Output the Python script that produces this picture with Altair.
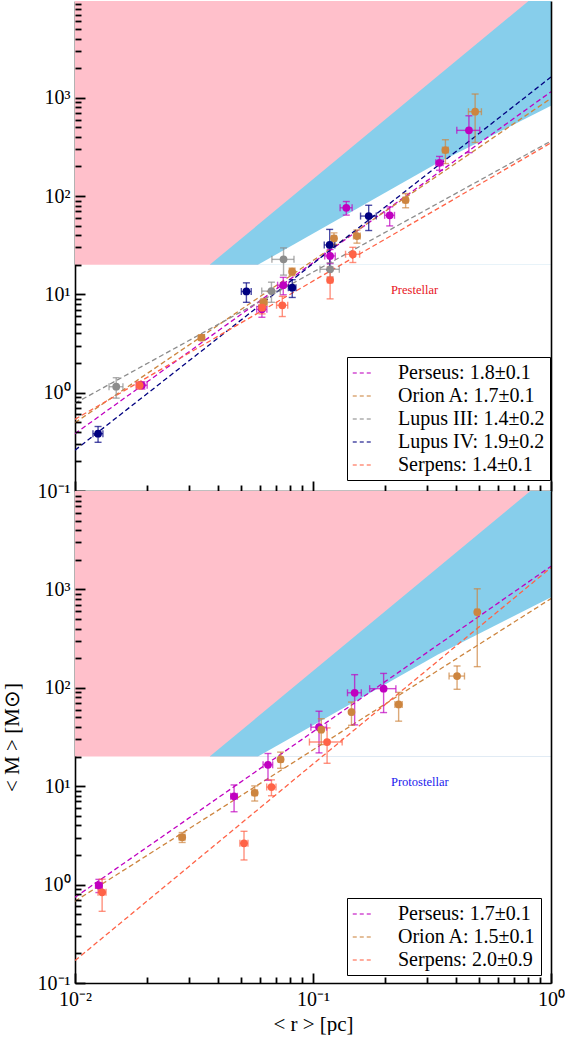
import altair as alt
import pandas as pd

# ---------------- data ----------------
# Prestellar (top panel)
pre_perseus_r = [0.0191, 0.061, 0.075, 0.118, 0.138, 0.210, 0.340, 0.452]
pre_perseus_m = [1.19, 7.05, 12.4, 24.6, 76.0, 63.7, 218, 466]
pre_perseus_rerr = [0.001, 0.003, 0.004, 0.006, 0.008, 0.010, 0.012, 0.05]
pre_perseus_merr = [0.1, 1.2, 2.5, 4, 12, 14, 35, 190]

pre_orion_r = [0.034, 0.0621, 0.0817, 0.1225, 0.153, 0.245, 0.360, 0.480]
pre_orion_m = [3.63, 8.27, 17.0, 37.2, 39.2, 91, 294, 721]
pre_orion_rerr = [0.001, 0.002, 0.002, 0.003, 0.005, 0.006, 0.01, 0.03]
pre_orion_merr = [0.2, 0.8, 1.5, 5, 6, 15, 80, 370]

pre_lupus3_r = [0.0149, 0.0669, 0.0752, 0.118]
pre_lupus3_m = [1.15, 10.8, 22.7, 18.0]
pre_lupus3_rerr = [0.001, 0.006, 0.008, 0.011]
pre_lupus3_merr = [0.27, 2.5, 7, 3]

pre_lupus4_r = [0.0125, 0.0525, 0.0818, 0.1175, 0.1714]
pre_lupus4_m = [0.383, 10.7, 11.7, 31.8, 62.6]
pre_lupus4_rerr = [0.0006, 0.0025, 0.003, 0.006, 0.013]
pre_lupus4_merr = [0.07, 2.4, 2.4, 14, 18]

pre_serpens_r = [0.0187, 0.0611, 0.0743, 0.118, 0.147]
pre_serpens_m = [1.19, 7.33, 7.75, 14.0, 25.6]
pre_serpens_rerr = [0.0006, 0.002, 0.004, 0.003, 0.01]
pre_serpens_merr = [0.1, 1.0, 1.8, 5, 4.5]

# Protostellar (bottom panel)
pro_perseus_r = [0.0126, 0.0466, 0.0647, 0.106, 0.1496, 0.198]
pro_perseus_m = [0.98, 7.9, 16.5, 39.8, 89, 98]
pro_perseus_rerr = [0.0004, 0.0015, 0.003, 0.008, 0.01, 0.025]
pro_perseus_merr = [0.15, 2.4, 5, 18, 47, 42]

pro_orion_r = [0.0282, 0.0569, 0.0731, 0.1083, 0.1451, 0.229, 0.403, 0.490]
pro_orion_m = [3.03, 8.57, 18.7, 37.5, 56.6, 67.8, 131.6, 589]
pro_orion_rerr = [0.0008, 0.0015, 0.0015, 0.002, 0.002, 0.008, 0.03, 0.01]
pro_orion_merr = [0.35, 1.5, 3.5, 11, 15, 22, 35, 425]

pro_serpens_r = [0.0130, 0.0513, 0.0669, 0.1146]
pro_serpens_m = [0.835, 2.63, 9.8, 28.1]
pro_serpens_rerr = [0.0005, 0.002, 0.003, 0.018]
pro_serpens_merr = [0.3, 0.85, 1.8, 11]

# fitted power laws (values at r = 0.01 and r = 1)
fit_r = [0.01, 1.0]
pre_fit_perseus = [0.383, 1151]
pre_fit_orion = [0.495, 986]
pre_fit_lupus3 = [0.78, 363]
pre_fit_lupus4 = [0.26, 1625]
pre_fit_serpens = [0.536, 348]
pro_fit_perseus = [0.743, 1718]
pro_fit_orion = [0.678, 806]
pro_fit_serpens = [0.169, 1667]

pre_labels = ["Perseus: 1.8±0.1", "Orion A: 1.7±0.1", "Lupus III: 1.4±0.2",
              "Lupus IV: 1.9±0.2", "Serpens: 1.4±0.1"]
pre_colors = ["#c000c0", "#cd853f", "#8c8c8c", "#000080", "#ff6347"]
pro_labels = ["Perseus: 1.7±0.1", "Orion A: 1.5±0.1", "Serpens: 2.0±0.9"]
pro_colors = ["#c000c0", "#cd853f", "#ff6347"]

# shaded regions
floor_m = 20
upper_edge_r = [0.0368, 0.2805, 1.0]
upper_edge_m = [20, 1170, 14900]
lower_edge_r = [0.0587, 0.335, 1.0]
lower_edge_m = [20, 218, 830]

# annotations
pre_note = ["Prestellar", 0.267, 11.0]
pro_note = ["Protostellar", 0.281, 11.0]

x_major = [0.01, 0.1, 1.0]
x_minor = [0.02, 0.03, 0.04, 0.05, 0.06, 0.07, 0.08, 0.09,
           0.2, 0.3, 0.4, 0.5, 0.6, 0.7, 0.8, 0.9]
y_major = [0.1, 1, 10, 100, 1000]
y_minor = [0.2, 0.3, 0.4, 0.5, 0.6, 0.7, 0.8, 0.9,
           2, 3, 4, 5, 6, 7, 8, 9,
           20, 30, 40, 50, 60, 70, 80, 90,
           200, 300, 400, 500, 600, 700, 800, 900,
           2000, 3000, 4000, 5000, 6000, 7000, 8000, 9000]

FONT = "Liberation Serif"
W = 476
LABEL_EXPR = ("datum.value < 0.05 ? '10⁻²' : datum.value < 0.5 ? '10⁻¹' : "
              "datum.value < 5 ? '10⁰' : datum.value < 50 ? '10¹' : "
              "datum.value < 500 ? '10²' : '10³'")


def points_df(series):
    rows = []
    for label, r, m, re, me in series:
        for i in range(len(r)):
            rows.append(dict(label=label, r=r[i], m=m[i],
                             rlo=r[i] - re[i], rhi=r[i] + re[i],
                             mlo=max(m[i] - me[i], 0.11), mhi=m[i] + me[i]))
    return pd.DataFrame(rows)


def fits_df(series):
    rows = []
    for label, vals in series:
        for r, m in zip(fit_r, vals):
            rows.append(dict(label=label, r=r, m=m))
    return pd.DataFrame(rows)


def panel(pts, fits, labels, colors, ymax, H, note, note_color, legend_y, bottom):
    xs = alt.Scale(type="log", domain=[0.01, 1.0], nice=False)
    ys = alt.Scale(type="log", domain=[0.1, ymax], nice=False)
    cs = alt.Scale(domain=labels, range=colors)

    main_x = alt.Axis(orient="bottom", values=x_major, labelExpr=LABEL_EXPR,
                      labels=bottom, ticks=False, tickSize=0, domain=True,
                      domainColor="black", domainWidth=1.6, grid=False,
                      labelFont=FONT, labelFontSize=20, labelColor="black",
                      labelPadding=6, labelFlush=False,
                      title="< r > [pc]" if bottom else None,
                      titleFont=FONT, titleFontSize=21, titleFontWeight="normal",
                      titleColor="black", titlePadding=4)
    main_y = alt.Axis(orient="left", values=y_major, labelExpr=LABEL_EXPR,
                      ticks=False, tickSize=0, domain=True, domainColor="black",
                      domainWidth=1.6, grid=False, labelFont=FONT,
                      labelFontSize=20, labelColor="black", labelPadding=5,
                      labelFlush=False,
                      title="< M > [M⊙]" if bottom else None,
                      titleFont=FONT, titleFontSize=21, titleFontWeight="normal",
                      titleColor="black", titlePadding=15)

    def tick_axes(xvals, yvals, size):
        ax = alt.Axis(orient="top", offset=-H, values=xvals, labels=False,
                      tickSize=size, tickWidth=1.8, tickColor="black",
                      domain=False, grid=False, title=None, zindex=3)
        ay = alt.Axis(orient="right", offset=-W, values=yvals, labels=False,
                      tickSize=size, tickWidth=1.8, tickColor="black",
                      domain=False, grid=False, title=None, zindex=3)
        return ax, ay

    maj_x, maj_y = tick_axes(x_major, y_major, 10)
    min_x, min_y = tick_axes(x_minor, y_minor, 6)
    right_spine = alt.Axis(orient="right", labels=False, ticks=False,
                           domain=True, domainColor="black", domainWidth=1.6,
                           grid=False, title=None, zindex=3)

    pink = alt.Chart(pd.DataFrame({"x0": [fit_r[0]], "x1": [fit_r[1]],
                                   "y0": [floor_m], "y1": [ymax]})).mark_rect(
        color="#ffc0cb").encode(
        x=alt.X("x0:Q", scale=xs, axis=main_x), x2="x1:Q",
        y=alt.Y("y0:Q", scale=ys, axis=main_y), y2="y1:Q")

    blue = alt.Chart(pd.DataFrame({"r": upper_edge_r, "m": upper_edge_m,
                                   "f": [floor_m] * len(upper_edge_r)})).mark_area(
        color="#87ceeb", clip=True, opacity=1).encode(
        x=alt.X("r:Q", scale=xs, axis=maj_x),
        y=alt.Y("m:Q", scale=ys, axis=maj_y), y2="f:Q")

    white = alt.Chart(pd.DataFrame({"r": lower_edge_r, "m": lower_edge_m,
                                    "f": [floor_m] * len(lower_edge_r)})).mark_area(
        color="white", clip=True, opacity=1).encode(
        x=alt.X("r:Q", scale=xs, axis=min_x),
        y=alt.Y("m:Q", scale=ys, axis=min_y), y2="f:Q")

    lines = alt.Chart(fits).mark_line(strokeDash=[5, 3], strokeWidth=1.3,
                                      clip=True).encode(
        x=alt.X("r:Q", scale=xs, axis=None),
        y=alt.Y("m:Q", scale=ys, axis=right_spine),
        color=alt.Color("label:N", scale=cs, legend=alt.Legend(
            orient="none", legendX=272, legendY=legend_y, title=None,
            symbolType="stroke", symbolStrokeWidth=1.5, symbolDash=[4, 3],
            symbolSize=420, symbolOpacity=0.7, labelFont=FONT,
            labelFontSize=20, labelColor="black", labelLimit=300,
            labelOffset=24, rowPadding=2, padding=5, strokeColor="black",
            fillColor="white", cornerRadius=0)),
        detail="label:N")

    nolegend = alt.Color("label:N", scale=cs, legend=None)
    base = alt.Chart(pts)
    yerr = base.mark_rule(strokeWidth=1.4, opacity=0.7).encode(
        x=alt.X("r:Q", scale=xs, axis=None),
        y=alt.Y("mlo:Q", scale=ys, axis=None), y2="mhi:Q", color=nolegend)
    xerr = base.mark_rule(strokeWidth=1.4, opacity=0.7).encode(
        x=alt.X("rlo:Q", scale=xs, axis=None), x2="rhi:Q",
        y=alt.Y("m:Q", scale=ys, axis=None), color=nolegend)
    ycaps = base.transform_fold(["mlo", "mhi"], as_=["which", "mc"]).mark_tick(
        orient="horizontal", size=7, thickness=1.4, opacity=0.7).encode(
        x=alt.X("r:Q", scale=xs, axis=None),
        y=alt.Y("mc:Q", scale=ys, axis=None), color=nolegend)
    xcaps = base.transform_fold(["rlo", "rhi"], as_=["which", "rc"]).mark_tick(
        orient="vertical", size=7, thickness=1.4, opacity=0.7).encode(
        x=alt.X("rc:Q", scale=xs, axis=None),
        y=alt.Y("m:Q", scale=ys, axis=None), color=nolegend)
    dots = base.mark_circle(size=60, opacity=1).encode(
        x=alt.X("r:Q", scale=xs, axis=None),
        y=alt.Y("m:Q", scale=ys, axis=None), color=nolegend)

    text = alt.Chart(pd.DataFrame({"t": [note[0]], "r": [note[1]],
                                   "m": [note[2]]})).mark_text(
        font=FONT, fontSize=12.5, color=note_color, align="center",
        baseline="middle").encode(
        x=alt.X("r:Q", scale=xs, axis=None),
        y=alt.Y("m:Q", scale=ys, axis=None), text="t:N")

    return alt.layer(pink, blue, white, lines, yerr, xerr, ycaps, xcaps, dots,
                     text).resolve_axis(x="independent", y="independent"
                                        ).properties(width=W, height=H)


pre_pts = points_df([
    (pre_labels[0], pre_perseus_r, pre_perseus_m, pre_perseus_rerr, pre_perseus_merr),
    (pre_labels[1], pre_orion_r, pre_orion_m, pre_orion_rerr, pre_orion_merr),
    (pre_labels[2], pre_lupus3_r, pre_lupus3_m, pre_lupus3_rerr, pre_lupus3_merr),
    (pre_labels[3], pre_lupus4_r, pre_lupus4_m, pre_lupus4_rerr, pre_lupus4_merr),
    (pre_labels[4], pre_serpens_r, pre_serpens_m, pre_serpens_rerr, pre_serpens_merr),
])
pre_fits = fits_df([
    (pre_labels[0], pre_fit_perseus), (pre_labels[1], pre_fit_orion),
    (pre_labels[2], pre_fit_lupus3), (pre_labels[3], pre_fit_lupus4),
    (pre_labels[4], pre_fit_serpens),
])
pro_pts = points_df([
    (pro_labels[0], pro_perseus_r, pro_perseus_m, pro_perseus_rerr, pro_perseus_merr),
    (pro_labels[1], pro_orion_r, pro_orion_m, pro_orion_rerr, pro_orion_merr),
    (pro_labels[2], pro_serpens_r, pro_serpens_m, pro_serpens_rerr, pro_serpens_merr),
])
pro_fits = fits_df([
    (pro_labels[0], pro_fit_perseus), (pro_labels[1], pro_fit_orion),
    (pro_labels[2], pro_fit_serpens),
])

top = panel(pre_pts, pre_fits, pre_labels, pre_colors, 9640, 490, pre_note,
            "#e8141c", 356, False)
bottom = panel(pro_pts, pro_fits, pro_labels, pro_colors, 10000, 492, pro_note,
               "#1a1aee", 407, True)

chart = alt.vconcat(top, bottom, spacing=0, bounds="flush").resolve_scale(
    color="independent").resolve_legend(color="independent").configure_view(
    stroke="transparent").properties(
    background="white",
    padding={"left": 0, "top": 0, "right": 0, "bottom": 0})

chart.save("out.html", embed_options={"renderer": "svg", "actions": False})
